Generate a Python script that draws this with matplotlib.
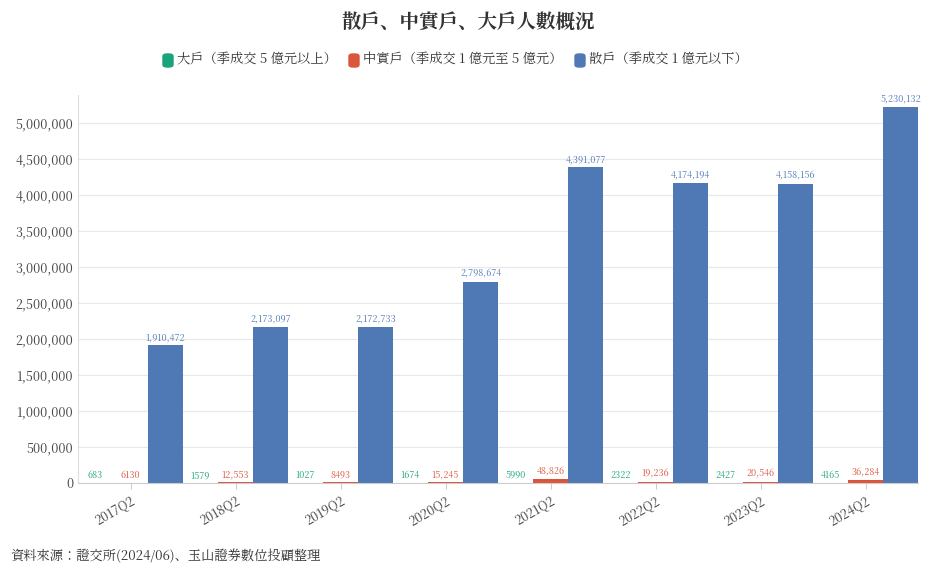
import matplotlib
matplotlib.use("Agg")
import matplotlib.pyplot as plt
from matplotlib import font_manager
import numpy as np
from matplotlib.patches import FancyBboxPatch

cjk = [f.name for f in font_manager.fontManager.ttflist if "CJK" in f.name]
pref = [n for n in cjk if "TC" in n] + cjk
plt.rcParams["font.family"] = "sans-serif"
plt.rcParams["font.sans-serif"] = pref[:1] + ["Noto Sans CJK TC", "Noto Sans CJK JP", "DejaVu Sans"]

categories = ["2017Q2", "2018Q2", "2019Q2", "2020Q2", "2021Q2", "2022Q2", "2023Q2", "2024Q2"]
big = [683, 1579, 1027, 1674, 5990, 2322, 2427, 4165]
mid = [6130, 12553, 8493, 15245, 48826, 19236, 20546, 36284]
retail = [1910472, 2173097, 2172733, 2798674, 4391077, 4174194, 4158156, 5230132]
series_names = ["大戶（季成交 5 億元以上）", "中實戶（季成交 1 億元至 5 億元）", "散戶（季成交 1 億元以下）"]
colors = ["#1aa37a", "#d9553c", "#4e79b4"]
fmts = [lambda v: f"{v}", lambda v: (f"{v:,}" if v >= 10000 else f"{v}"), lambda v: f"{v:,}"]

fig = plt.figure(figsize=(9.36, 5.75), dpi=100)
ax = fig.add_axes([78/936, 1-483/575, 840/936, 388/575])
x = np.arange(len(categories))
w = 1/3
for i, (vals, c) in enumerate(zip([big, mid, retail], colors)):
    pos = x + (i-1)*w
    ax.bar(pos, vals, width=w, color=c, zorder=2)
    for p, v in zip(pos, vals):
        ax.text(p, max(v, 0) + 40000, fmts[i](v), ha="center", va="bottom", fontsize=6.5, color=c)
ax.set_xlim(-0.5, len(categories)-0.5)
ax.set_ylim(0, 5390000)
ax.set_yticks(np.arange(0, 5000001, 500000))
ax.set_yticklabels([f"{int(t):,}" for t in ax.get_yticks()], fontsize=9, color="#444")
ax.set_xticks(x)
ax.set_xticklabels(categories, rotation=30, ha="right", fontsize=9, color="#444", rotation_mode="anchor")
ax.grid(axis="y", color="#e8e8e8", lw=0.8, zorder=0)
for s in ["top", "right"]:
    ax.spines[s].set_visible(False)
ax.spines["left"].set_color("#dddddd")
ax.spines["bottom"].set_color("#cccccc")
ax.tick_params(axis="y", length=0)
ax.tick_params(axis="x", length=4, color="#cccccc")

fig.text(0.5, 1-22/575, "散戶、中實戶、大戶人數概況", ha="center", va="center", fontsize=14, fontweight="bold", color="#333")
lx = [163, 349, 575]
for xx, name, c in zip(lx, series_names, colors):
    fig.patches.append(FancyBboxPatch((xx/936, 1-67/575), 10/936, 13/575, boxstyle="round,pad=0,rounding_size=0.004",
                                      transform=fig.transFigure, color=c))
    fig.text((xx+14)/936, 1-60/575, name, ha="left", va="center", fontsize=9.5, color="#333")
fig.text(10/936, 1-556/575, "資料來源：證交所(2024/06)、玉山證券數位投顧整理", ha="left", va="center", fontsize=9.5, color="#333")
fig.savefig("out.png", dpi=100)
